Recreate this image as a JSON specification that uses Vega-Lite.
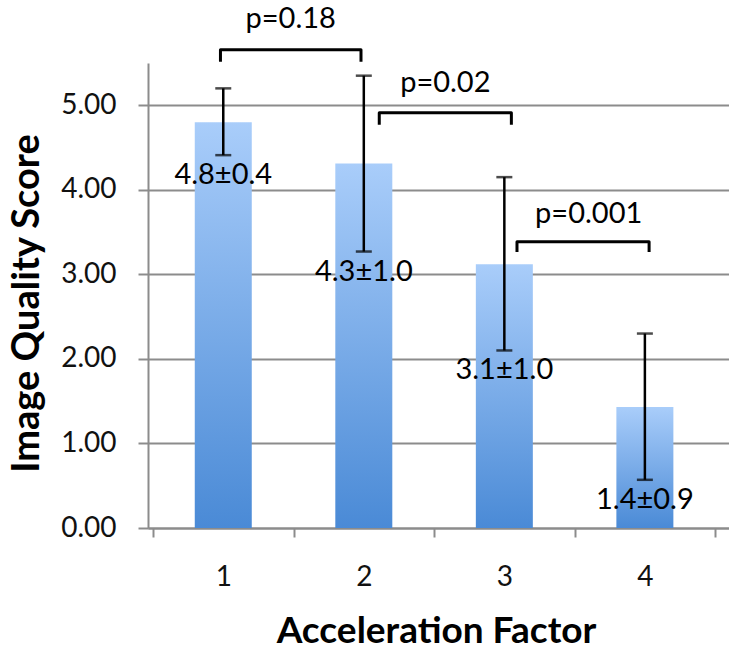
{
  "$schema": "https://vega.github.io/schema/vega-lite/v6.json",
  "width": 581,
  "height": 465,
  "autosize": "none",
  "padding": {"left": 148, "top": 63, "right": 0, "bottom": 124},
  "background": "white",
  "config": {
    "view": {"stroke": null},
    "font": "Lato",
    "axis": {
      "labelFont": "Lato", "titleFont": "Lato", "labelColor": "#111111", "titleColor": "#000000",
      "domainColor": "#8c8c8c", "domainWidth": 2, "tickColor": "#8c8c8c", "tickWidth": 2,
      "gridColor": "#8c8c8c", "gridWidth": 2, "labelFontSize": 28, "titleFontSize": 37, "titleFontWeight": "bold"
    }
  },
  "datasets": {
    "bars": [
      {"factor": 1, "score": 4.8, "lo": 4.41, "hi": 5.2, "label": "4.8±0.4"},
      {"factor": 2, "score": 4.31, "lo": 3.27, "hi": 5.35, "label": "4.3±1.0"},
      {"factor": 3, "score": 3.12, "lo": 2.1, "hi": 4.15, "label": "3.1±1.0"},
      {"factor": 4, "score": 1.43, "lo": 0.57, "hi": 2.3, "label": "1.4±0.9"}
    ],
    "brackets": [
      {"pair": "1-2", "x": 0.98, "y": 5.515, "order": 1},
      {"pair": "1-2", "x": 0.98, "y": 5.657, "order": 2},
      {"pair": "1-2", "x": 1.98, "y": 5.657, "order": 3},
      {"pair": "1-2", "x": 1.98, "y": 5.515, "order": 4},
      {"pair": "2-3", "x": 2.11, "y": 4.769, "order": 1},
      {"pair": "2-3", "x": 2.11, "y": 4.911, "order": 2},
      {"pair": "2-3", "x": 3.05, "y": 4.911, "order": 3},
      {"pair": "2-3", "x": 3.05, "y": 4.769, "order": 4},
      {"pair": "3-4", "x": 3.09, "y": 3.266, "order": 1},
      {"pair": "3-4", "x": 3.09, "y": 3.385, "order": 2},
      {"pair": "3-4", "x": 4.03, "y": 3.385, "order": 3},
      {"pair": "3-4", "x": 4.03, "y": 3.266, "order": 4}
    ],
    "pvals": [
      {"x": 1.48, "y": 5.917, "text": "p=0.18"},
      {"x": 2.58, "y": 5.16, "text": "p=0.02"},
      {"x": 3.6, "y": 3.61, "text": "p=0.001"}
    ]
  },
  "encoding": {
    "x": {"type": "quantitative", "title": "Acceleration Factor",
      "scale": {"domain": [0.5, 4.563], "nice": false, "zero": false},
      "axis": {"values": [0.5, 1, 1.5, 2, 2.5, 3, 3.5, 4, 4.5],
        "labelExpr": "datum.value % 1 === 0 ? '' + datum.value : ''",
        "tickOpacity": {"condition": {"test": "datum.value % 1 !== 0", "value": 1}, "value": 0},
        "grid": false, "tickSize": 9, "labelPadding": 26, "labelFlush": false, "labelOverlap": false,
        "titleX": 288, "titleY": 114, "titleBaseline": "alphabetic", "titleAlign": "center"}},
    "y": {"type": "quantitative", "title": "Image Quality Score",
      "scale": {"domain": [0, 5.5], "nice": false},
      "axis": {"values": [0, 1, 2, 3, 4, 5], "format": ".2f", "tickSize": 10, "labelPadding": 22, "grid": true,
        "titleX": -110, "titleY": 240, "titleFontSize": 38, "titleAngle": 270, "titleBaseline": "alphabetic", "titleAlign": "center"}}
  },
  "layer": [
    {
      "data": {"name": "bars"},
      "mark": {
        "type": "bar", "width": 57,
        "color": {"gradient": "linear", "x1": 0, "y1": 0, "x2": 0, "y2": 1,
          "stops": [{"offset": 0, "color": "#a9cdfa"}, {"offset": 1, "color": "#4a8ad6"}]}
      },
      "encoding": {
        "x": {"field": "factor", "type": "quantitative"},
        "y": {"field": "score", "type": "quantitative"}
      }
    },
    {
      "data": {"name": "bars"},
      "mark": {"type": "rule", "color": "#000000", "strokeWidth": 2.5},
      "encoding": {
        "x": {"field": "factor", "type": "quantitative"},
        "y": {"field": "lo", "type": "quantitative"},
        "y2": {"field": "hi"}
      }
    },
    {
      "data": {"name": "bars"},
      "mark": {"type": "tick", "orient": "horizontal", "color": "#000000", "size": 16, "thickness": 2.5},
      "encoding": {
        "x": {"field": "factor", "type": "quantitative"},
        "y": {"field": "lo", "type": "quantitative"}
      }
    },
    {
      "data": {"name": "bars"},
      "mark": {"type": "tick", "orient": "horizontal", "color": "#000000", "size": 16, "thickness": 2.5},
      "encoding": {
        "x": {"field": "factor", "type": "quantitative"},
        "y": {"field": "hi", "type": "quantitative"}
      }
    },
    {
      "data": {"name": "bars"},
      "mark": {"type": "text", "baseline": "top", "dy": 6, "fontSize": 29, "font": "Lato", "color": "#000000"},
      "encoding": {
        "x": {"field": "factor", "type": "quantitative"},
        "y": {"field": "lo", "type": "quantitative"},
        "text": {"field": "label"}
      }
    },
    {
      "data": {"name": "brackets"},
      "mark": {"type": "line", "color": "#000000", "strokeWidth": 3, "strokeJoin": "round", "strokeCap": "butt"},
      "encoding": {
        "x": {"field": "x", "type": "quantitative"},
        "y": {"field": "y", "type": "quantitative"},
        "detail": {"field": "pair"},
        "order": {"field": "order"}
      }
    },
    {
      "data": {"name": "pvals"},
      "mark": {"type": "text", "baseline": "alphabetic", "fontSize": 29, "font": "Lato", "color": "#000000"},
      "encoding": {
        "x": {"field": "x", "type": "quantitative"},
        "y": {"field": "y", "type": "quantitative"},
        "text": {"field": "text"}
      }
    }
  ]
}
